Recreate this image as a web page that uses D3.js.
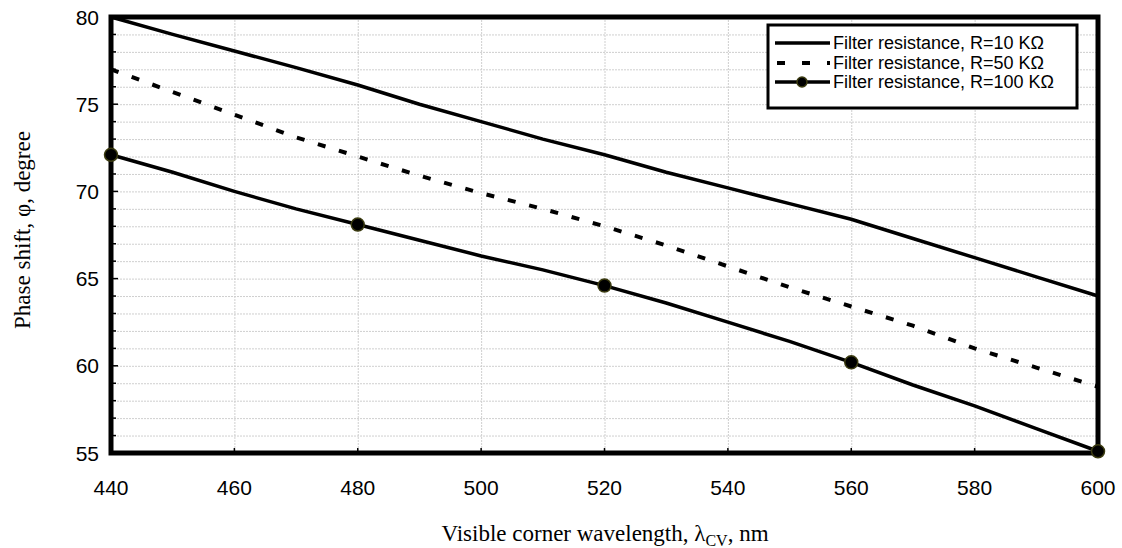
<!DOCTYPE html>
<html lang="en">
<head>
  <meta charset="UTF-8">
  <title>Phase shift vs visible corner wavelength</title>
  <script src="https://d3js.org/d3.v7.min.js"></script>
  <style>
    body { margin: 0; background: #fff; }
  </style>
</head>
<body>
  <svg width="1122" height="548"></svg>

  <script>
    // wavelength (nm), 10 nm steps
    const wavelengths = [440, 450, 460, 470, 480, 490, 500, 510, 520, 530, 540, 550, 560, 570, 580, 590, 600];
    // phase shift (degree) for each filter resistance
    const r10  = [80.0, 79.0, 78.05, 77.1, 76.1, 75.0, 74.0, 73.0, 72.1, 71.1, 70.2, 69.3, 68.4, 67.3, 66.2, 65.1, 64.0];
    const r50  = [77.0, 75.7, 74.4, 73.1, 72.0, 70.9, 69.9, 69.0, 68.0, 66.9, 65.7, 64.5, 63.4, 62.3, 61.0, 59.9, 58.8];
    const r100 = [72.1, 71.1, 70.0, 69.0, 68.1, 67.2, 66.3, 65.5, 64.6, 63.6, 62.5, 61.4, 60.2, 58.9, 57.7, 56.4, 55.1];
    const markerWavelengths = [440, 480, 520, 560, 600];
    const seriesNames = ["Filter resistance, R=10 K\u03A9", "Filter resistance, R=50 K\u03A9", "Filter resistance, R=100 K\u03A9"];
    const xTicks = [440, 460, 480, 500, 520, 540, 560, 580, 600];
    const yTicks = [55, 60, 65, 70, 75, 80];

    const svg = d3.select("svg");
    const pLeft = 111, pRight = 1098, pTop = 17, pBottom = 453;

    const x = d3.scaleLinear().domain([440, 600]).range([pLeft, pRight]);
    const y = d3.scaleLinear().domain([55, 80]).range([pBottom, pTop]);

    // grid
    const grid = svg.append("g").attr("stroke", "#cfcfcf").attr("stroke-width", 1).attr("stroke-dasharray", "2,1");
    grid.selectAll(".hg").data(d3.range(56, 80)).enter().append("line")
        .attr("x1", pLeft).attr("x2", pRight)
        .attr("y1", d => y(d) + 0.5).attr("y2", d => y(d) + 0.5);
    grid.selectAll(".vg").data(xTicks.slice(1, -1)).enter().append("line")
        .attr("x1", d => x(d) + 0.5).attr("x2", d => x(d) + 0.5)
        .attr("y1", pTop).attr("y2", pBottom);

    // minor / major ticks on the left axis (inward)
    svg.append("g").selectAll("line").data(d3.range(56, 80)).enter().append("line")
        .attr("x1", pLeft).attr("x2", d => d % 5 === 0 ? pLeft + 7 : pLeft + 5)
        .attr("y1", d => y(d)).attr("y2", d => y(d))
        .attr("stroke", "#000").attr("stroke-width", 1.5);
    svg.append("g").selectAll("line").data(xTicks.slice(1, -1)).enter().append("line")
        .attr("x1", d => x(d)).attr("x2", d => x(d))
        .attr("y1", pBottom).attr("y2", pBottom - 5)
        .attr("stroke", "#000").attr("stroke-width", 1.5);

    // tick labels
    svg.append("g").selectAll("text").data(yTicks).enter().append("text")
        .attr("x", pLeft - 12).attr("y", d => y(d)).attr("dy", "0.36em")
        .attr("text-anchor", "end")
        .style("font", "21px 'Liberation Sans', Arial, sans-serif")
        .text(d => d);
    svg.append("g").selectAll("text").data(xTicks).enter().append("text")
        .attr("x", d => x(d)).attr("y", pBottom + 34).attr("dy", "0.36em")
        .attr("text-anchor", "middle")
        .style("font", "21px 'Liberation Sans', Arial, sans-serif")
        .text(d => d);

    // lines
    const line = d3.line().x((d, i) => x(wavelengths[i])).y(d => y(d));
    svg.append("path").attr("d", line(r10)).attr("fill", "none")
        .attr("stroke", "#000").attr("stroke-width", 3.5);
    svg.append("path").attr("d", line(r50)).attr("fill", "none")
        .attr("stroke", "#000").attr("stroke-width", 4).attr("stroke-dasharray", "8,14");
    svg.append("path").attr("d", line(r100)).attr("fill", "none")
        .attr("stroke", "#000").attr("stroke-width", 3.5);

    // frame
    svg.append("rect").attr("x", pLeft).attr("y", pTop)
        .attr("width", pRight - pLeft).attr("height", pBottom - pTop)
        .attr("fill", "none").attr("stroke", "#000").attr("stroke-width", 5);

    // markers for R=100
    svg.append("g").selectAll("circle")
        .data(markerWavelengths.map(w => [w, r100[wavelengths.indexOf(w)]]))
        .enter().append("circle")
        .attr("cx", d => x(d[0])).attr("cy", d => y(d[1])).attr("r", 6.5)
        .attr("fill", "#000").attr("stroke", "#3b3b10").attr("stroke-width", 1.5);

    // legend
    const lg = svg.append("g");
    lg.append("rect").attr("x", 768).attr("y", 25).attr("width", 309).attr("height", 83)
        .attr("fill", "#fff").attr("stroke", "#000").attr("stroke-width", 3);
    const rows = [43, 63, 82];
    seriesNames.forEach((name, i) => {
      const ly = rows[i];
      lg.append("line").attr("x1", 775).attr("x2", 830).attr("y1", ly).attr("y2", ly)
          .attr("stroke", "#000").attr("stroke-width", i === 1 ? 4 : 3.5)
          .attr("stroke-dasharray", i === 1 ? "8,17" : null)
          .attr("stroke-dashoffset", i === 1 ? -2 : 0);
      if (i === 2) {
        lg.append("circle").attr("cx", 802).attr("cy", ly).attr("r", 5)
            .attr("fill", "#000").attr("stroke", "#3b3b10").attr("stroke-width", 1.5);
      }
      lg.append("text").attr("x", 833).attr("y", ly).attr("dy", "0.36em")
          .style("font", "18px 'Liberation Sans', Arial, sans-serif")
          .text(name);
    });

    // axis titles
    svg.append("text")
        .attr("transform", "translate(22,230) rotate(-90)")
        .attr("text-anchor", "middle").attr("dy", "0.35em")
        .style("font", "23px 'Liberation Serif', 'Times New Roman', serif")
        .text("Phase shift, \u03C6, degree");

    const xt = svg.append("text")
        .attr("x", 605).attr("y", 533).attr("dy", "0.35em")
        .attr("text-anchor", "middle")
        .style("font", "23px 'Liberation Serif', 'Times New Roman', serif");
    xt.append("tspan").text("Visible corner wavelength, \u03BB");
    xt.append("tspan").attr("dy", "5").style("font-size", "16px").text("CV");
    xt.append("tspan").attr("dy", "-5").text(", nm");
  </script>
</body>
</html>
